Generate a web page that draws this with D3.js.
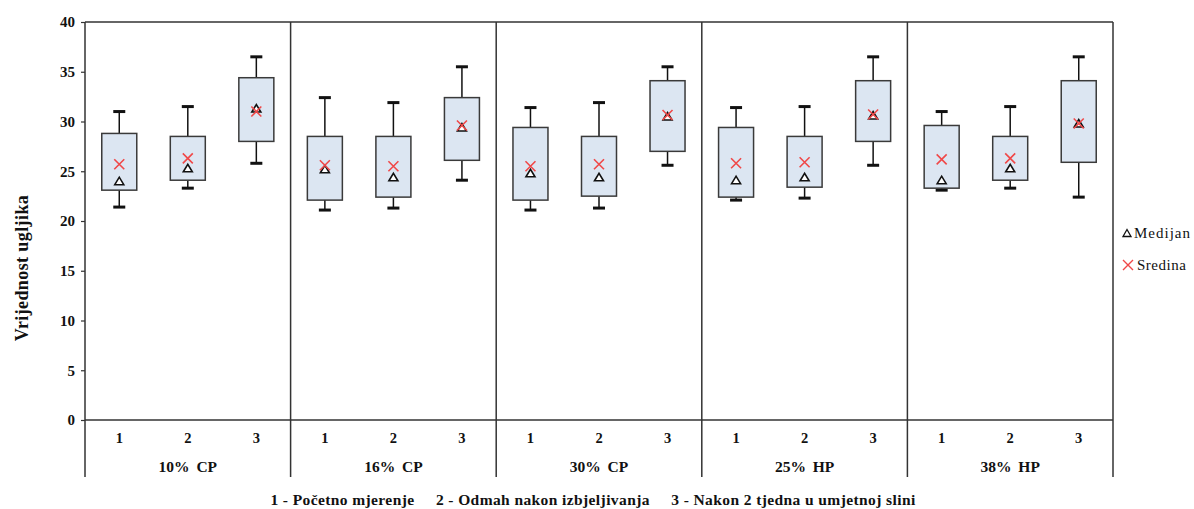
<!DOCTYPE html>
<html><head><meta charset="utf-8">
<script src="https://cdn.jsdelivr.net/npm/d3@7"></script>
<style>
body{margin:0;background:#fff;}
svg text{font-family:"Liberation Serif","Times New Roman",Times,serif;}
</style></head>
<body><svg id="c" width="1194" height="509"></svg>
<script>
const groups = ["10% CP","16% CP","30% CP","25% HP","38% HP"];
const stages = ["1","2","3"];
const whiskerTop = [[31.0,31.5,36.5],[32.4,31.9,35.5],[31.4,31.9,35.5],[31.4,31.5,36.5],[31.0,31.5,36.5]];
const boxTop     = [[28.8,28.5,34.4],[28.5,28.5,32.4],[29.4,28.5,34.1],[29.4,28.5,34.1],[29.6,28.5,34.1]];
const boxBottom  = [[23.1,24.1,28.0],[22.1,22.4,26.1],[22.1,22.5,27.0],[22.4,23.4,28.0],[23.3,24.1,25.9]];
const whiskerBottom=[[21.4,23.3,25.8],[21.1,21.3,24.1],[21.1,21.3,25.6],[22.1,22.3,25.6],[23.1,23.3,22.4]];
const means      = [[25.7,26.3,31.0],[25.6,25.5,29.6],[25.5,25.7,30.65],[25.8,25.9,30.7],[26.2,26.3,29.8]];
const medians    = [[24.0,25.3,31.3],[25.2,24.4,29.4],[24.8,24.4,30.5],[24.1,24.4,30.6],[24.1,25.3,29.8]];
const yTicks = [0,5,10,15,20,25,30,35,40];
const yTitle = "Vrijednost ugljika";
const legendLabels = ["Medijan","Sredina"];
const footnote = "1 - Početno mjerenje     2 - Odmah nakon izbjeljivanja     3 - Nakon 2 tjedna u umjetnoj slini";

const FONT = "Liberation Serif, Times New Roman, Times, serif";
const svg = d3.select("#c");
const L=85, R=1113, T=22, B=420, AX=477;
const y = d3.scaleLinear().domain([0,40]).range([B,T]);
const xg = d3.scaleBand().domain(groups).range([L,R]).padding(0);
const xs = d3.scaleBand().domain(stages).range([0,xg.bandwidth()]).padding(0);
const boxW = 35, capW = 12;
const frame="#333";

// y axis
const yAxis = d3.axisLeft(y).tickValues(yTicks).tickSize(4).tickPadding(6);
const ga = svg.append("g").attr("transform",`translate(${L},0)`).call(yAxis).attr("font-family",FONT);
ga.select(".domain").remove();
ga.selectAll(".tick line").attr("stroke",frame).attr("stroke-width",1.2);
ga.selectAll(".tick text").attr("font-family",FONT).attr("font-weight","bold").attr("font-size",15).attr("fill","#111");

// frame
svg.append("line").attr("x1",L).attr("x2",R).attr("y1",T).attr("y2",T).attr("stroke",frame).attr("stroke-width",1.5);
svg.append("line").attr("x1",L).attr("x2",R).attr("y1",B).attr("y2",B).attr("stroke",frame).attr("stroke-width",1.5);
const seps = [...groups.map(g=>xg(g)), R];
svg.selectAll("line.sep").data(seps).join("line").attr("class","sep")
  .attr("x1",d=>d).attr("x2",d=>d).attr("y1",T).attr("y2",AX).attr("stroke",frame).attr("stroke-width",1.5);

// boxes
groups.forEach((g,gi)=>{
  stages.forEach((s,si)=>{
    const cx = xg(g)+xs(s)+xs.bandwidth()/2;
    const gg = svg.append("g");
    gg.append("line").attr("x1",cx).attr("x2",cx).attr("y1",y(whiskerTop[gi][si])).attr("y2",y(boxTop[gi][si])).attr("stroke","#111").attr("stroke-width",1.5);
    gg.append("line").attr("x1",cx).attr("x2",cx).attr("y1",y(boxBottom[gi][si])).attr("y2",y(whiskerBottom[gi][si])).attr("stroke","#111").attr("stroke-width",1.5);
    [whiskerTop[gi][si],whiskerBottom[gi][si]].forEach(v=>{
      gg.append("line").attr("x1",cx-capW/2).attr("x2",cx+capW/2).attr("y1",y(v)).attr("y2",y(v)).attr("stroke","#111").attr("stroke-width",3);
    });
    gg.append("rect").attr("x",cx-boxW/2).attr("y",y(boxTop[gi][si])).attr("width",boxW)
      .attr("height",y(boxBottom[gi][si])-y(boxTop[gi][si])).attr("fill","#dce6f2").attr("stroke","#3a3a3a").attr("stroke-width",1.5);
    const my = y(medians[gi][si]);
    gg.append("path").attr("d",`M${cx-4.5},${my+3.5}L${cx+4.5},${my+3.5}L${cx},${my-4}Z`).attr("fill","#fff").attr("stroke","#111").attr("stroke-width",1.6);
    const ey = y(means[gi][si]);
    gg.append("path").attr("d",`M${cx-5},${ey-5}L${cx+5},${ey+5}M${cx-5},${ey+5}L${cx+5},${ey-5}`).attr("stroke","#f04848").attr("stroke-width",1.6).attr("fill","none");
  });
  stages.forEach(s=>{
    svg.append("text").attr("x",xg(g)+xs(s)+xs.bandwidth()/2).attr("y",438).attr("dy","0.35em")
      .attr("text-anchor","middle").attr("font-family",FONT).attr("font-weight","bold").attr("font-size",14.5).attr("fill","#111").text(s);
  });
  svg.append("text").attr("x",xg(g)+xg.bandwidth()/2).attr("y",467).attr("dy","0.35em")
    .attr("text-anchor","middle").attr("font-family",FONT).attr("font-weight","bold").attr("font-size",15.5).attr("fill","#111")
    .attr("word-spacing","3px").text(g);
});

// y title
svg.append("text").attr("transform","translate(22,268) rotate(-90)").attr("dy","0.35em")
  .attr("text-anchor","middle").attr("font-family",FONT).attr("font-weight","bold").attr("font-size",18).attr("letter-spacing","0.4px").attr("fill","#111").text(yTitle);

// footnote
svg.append("text").attr("x",593).attr("y",500).attr("dy","0.35em").attr("text-anchor","middle")
  .attr("font-family",FONT).attr("font-weight","bold").attr("font-size",15.5).attr("letter-spacing","0.4px").attr("fill","#111").style("white-space","pre").text(footnote);

// legend
const lg = svg.append("g");
lg.append("path").attr("d","M1123,236.5L1131,236.5L1127,229.5Z").attr("fill","#fff").attr("stroke","#111").attr("stroke-width",1.3);
lg.append("text").attr("x",1134).attr("y",233).attr("dy","0.35em").attr("font-family",FONT).attr("font-size",15).attr("letter-spacing","1px").attr("fill","#111").text(legendLabels[0]);
lg.append("path").attr("d","M1123,260L1133,270M1123,270L1133,260").attr("stroke","#f04848").attr("stroke-width",1.4);
lg.append("text").attr("x",1137).attr("y",265).attr("dy","0.35em").attr("font-family",FONT).attr("font-size",15).attr("letter-spacing","0.5px").attr("fill","#111").text(legendLabels[1]);
</script></body></html>
